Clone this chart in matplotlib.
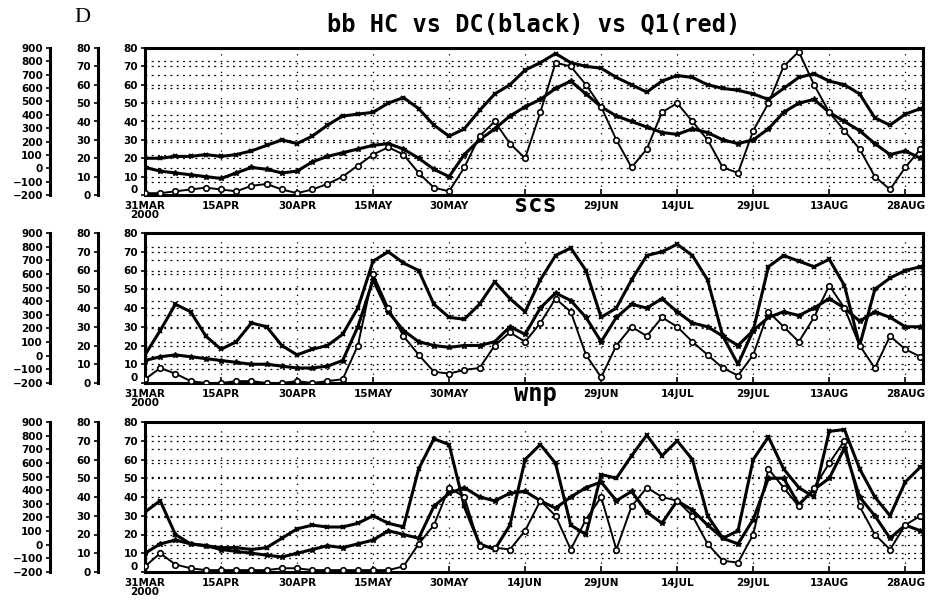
import matplotlib
matplotlib.use("Agg")
import matplotlib.pyplot as plt
import numpy as np

# ---------------- data (days since 31 MAR 2000, every 3 days) ----------------
days = list(range(0, 154, 3))

tick_days = [0, 15, 30, 45, 60, 75, 90, 105, 120, 135, 150]
tick_labels = ["31MAR\n2000", "15APR", "30APR", "15MAY", "30MAY", "14JUN",
               "29JUN", "14JUL", "29JUL", "13AUG", "28AUG"]

# panel "bb"
bb_hc = [20, 20, 21, 21, 22, 21, 22, 24, 27, 30, 28, 32, 38, 43, 44, 45, 50, 53,
         47, 38, 32, 36, 46, 55, 60, 68, 72, 77, 72, 70, 69, 64, 60, 56, 62, 65,
         64, 60, 58, 57, 55, 52, 58, 64, 66, 62, 60, 55, 42, 38, 44, 47]
bb_dc = [15, 13, 12, 11, 10, 9, 12, 15, 14, 12, 13, 18, 21, 23, 25, 27, 28, 25,
         20, 14, 10, 22, 30, 36, 43, 48, 52, 58, 62, 55, 48, 43, 40, 37, 34, 33,
         36, 34, 30, 28, 30, 36, 45, 50, 52, 45, 40, 35, 28, 22, 24, 20]
bb_q1 = [1, 1, 2, 3, 4, 3, 2, 5, 6, 3, 1, 3, 6, 10, 16, 22, 26, 22, 12, 4, 2,
         15, 32, 40, 28, 20, 45, 72, 70, 60, 48, 30, 15, 25, 45, 50, 40, 30, 15,
         12, 35, 50, 70, 78, 60, 45, 35, 25, 10, 3, 15, 25]

# panel "scs"
scs_hc = [15, 28, 42, 38, 25, 18, 22, 32, 30, 20, 15, 18, 20, 26, 40, 65, 70, 64,
          60, 42, 35, 34, 42, 54, 45, 38, 55, 68, 72, 60, 35, 40, 55, 68, 70, 74,
          68, 55, 25, 10, 28, 62, 68, 65, 62, 66, 52, 20, 50, 56, 60, 62]
scs_dc = [12, 14, 15, 14, 13, 12, 11, 10, 10, 9, 8, 8, 9, 12, 30, 55, 38, 28, 22,
          20, 19, 20, 20, 22, 30, 26, 40, 48, 44, 35, 22, 35, 42, 40, 45, 38, 32,
          30, 25, 20, 28, 35, 38, 36, 40, 45, 40, 33, 38, 35, 30, 30]
scs_q1 = [2, 8, 5, 1, 0, 0, 1, 1, 0, 0, 1, 0, 1, 2, 20, 58, 40, 25, 15, 6, 5, 7,
          8, 20, 27, 22, 32, 45, 38, 15, 3, 20, 30, 25, 35, 30, 22, 15, 8, 4, 15,
          38, 30, 22, 35, 52, 40, 20, 8, 25, 18, 14]

# panel "wnp"
wnp_hc = [32, 38, 20, 15, 14, 13, 13, 12, 13, 18, 23, 25, 24, 24, 26, 30, 26, 24,
          55, 71, 68, 35, 15, 12, 25, 60, 68, 58, 25, 20, 52, 50, 62, 73, 62, 70,
          60, 30, 18, 22, 60, 72, 55, 45, 40, 75, 76, 55, 40, 30, 48, 56]
wnp_dc = [10, 15, 17, 15, 14, 12, 11, 10, 9, 8, 10, 12, 14, 13, 15, 17, 22, 20,
          18, 35, 42, 45, 40, 38, 42, 43, 38, 34, 40, 45, 48, 38, 43, 32, 26, 38,
          33, 25, 18, 15, 28, 50, 50, 36, 44, 50, 66, 40, 30, 18, 25, 22]
wnp_q1 = [3, 10, 4, 2, 1, 1, 1, 1, 1, 2, 2, 1, 1, 1, 1, 1, 1, 3, 15, 25, 45, 40,
          14, 13, 12, 22, 38, 30, 12, 28, 40, 12, 35, 45, 40, 38, 30, 15, 6, 5,
          20, 55, 45, 35, 45, 58, 70, 35, 20, 12, 25, 30]

panels = [
    ("", bb_hc, bb_dc, bb_q1),
    ("scs", scs_hc, scs_dc, scs_q1),
    ("wnp", wnp_hc, wnp_dc, wnp_q1),
]

# secondary (outer) axis values
outer_ticks = list(range(-200, 1000, 100))
mid_ticks = list(range(0, 90, 10))

# ---------------- figure ----------------
W, H = 934, 601
fig = plt.figure(figsize=(W / 100, H / 100), dpi=100)
fig.patch.set_facecolor("white")

tops = [48, 233, 422]
bottoms = [195, 383, 572]
left_px, right_px = 145, 923

def fx(px):
    return px / W

def fy(px):
    return 1 - px / H

tick_font = dict(fontsize=7.5, fontweight="bold", family="DejaVu Sans")

for i, (name, hc, dc, q1) in enumerate(panels):
    t, b = tops[i], bottoms[i]
    ax = fig.add_axes([fx(left_px), fy(b), fx(right_px - left_px), (b - t) / H])
    ax.set_xlim(0, 153.5)
    ax.set_ylim(0, 80)

    # dotted grid: mid-axis and outer-axis levels
    levels = [v for v in range(10, 80, 10)] + \
             [(v + 200) / 1100 * 80 for v in range(-100, 900, 100)]
    for lv in levels:
        ax.axhline(lv, color="k", lw=0.9, ls=(0, (1.5, 3.5)), zorder=1)
    for d in tick_days:
        ax.axvline(d, color="k", lw=0.9, ls=(0, (1, 6)), zorder=1)

    ax.plot(days, hc, color="k", lw=2.2, marker="x", ms=3.5, mew=1.4, zorder=3)
    ax.plot(days, dc, color="k", lw=2.2, marker="*", ms=4, zorder=3)
    ax.plot(days, q1, color="k", lw=1.4, marker="o", ms=4, mfc="white",
            mew=1.2, zorder=4)

    for s in ax.spines.values():
        s.set_linewidth(2.2)
    ax.set_yticks(mid_ticks)
    ylabels = [str(v) for v in mid_ticks]
    ax.set_yticklabels(ylabels, **tick_font)
    # lift the bottom "0" a little so it does not collide with the date label
    ax.get_yticklabels()[0].set_va("bottom")
    ax.set_xticks(tick_days)
    labels = list(tick_labels)
    if i < 2:
        # in the reference the 14JUN label of the upper rows is hidden
        # underneath the next panel's title
        labels[5] = ""
    ax.set_xticklabels(labels, **tick_font, linespacing=0.9)
    ax.tick_params(axis="y", direction="out", length=3, width=1.2, pad=2)
    ax.tick_params(axis="x", direction="in", length=4, width=1.2, pad=4)

    # middle axis 0..80
    axm = fig.add_axes([fx(98), fy(b), 1e-4, (b - t) / H])
    axm.set_ylim(0, 80)
    axm.set_yticks(mid_ticks)
    axm.set_yticklabels([str(v) for v in mid_ticks], **tick_font)
    axm.set_xticks([])
    for k in ["top", "right", "bottom"]:
        axm.spines[k].set_visible(False)
    axm.spines["left"].set_linewidth(2.2)
    axm.tick_params(axis="y", direction="out", length=3, width=1.2, pad=2)
    axm.patch.set_alpha(0)

    # outer axis -200..900
    axo = fig.add_axes([fx(50), fy(b), 1e-4, (b - t) / H])
    axo.set_ylim(-200, 900)
    axo.set_yticks(outer_ticks)
    axo.set_yticklabels([str(v).replace("-", "\u2212") for v in outer_ticks],
                        **tick_font)
    axo.set_xticks([])
    for k in ["top", "right", "bottom"]:
        axo.spines[k].set_visible(False)
    axo.spines["left"].set_linewidth(2.2)
    axo.tick_params(axis="y", direction="out", length=3, width=1.2, pad=2)
    axo.patch.set_alpha(0)

    if name:
        fig.text(fx(535), fy(t - 28), name, fontsize=17, ha="center",
                 va="center", family="DejaVu Sans Mono", fontweight="bold")

fig.text(fx(534), fy(25), "bb HC vs DC(black) vs Q1(red)", fontsize=17,
         ha="center", va="center", family="DejaVu Sans Mono", fontweight="bold")
fig.text(fx(82), fy(18), "D", fontsize=16, ha="center", va="center",
         family="Liberation Serif")

fig.savefig("out.png", dpi=100, facecolor="white")
